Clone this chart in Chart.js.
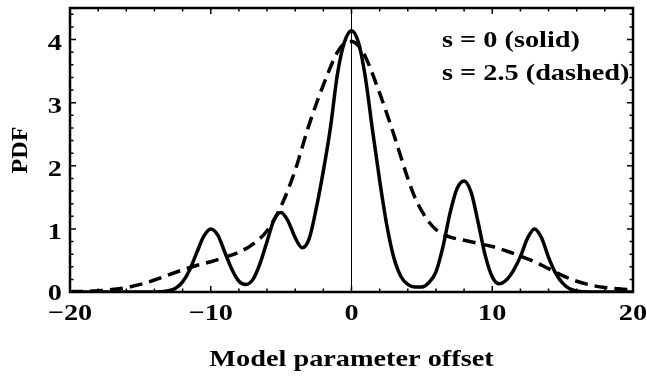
<!DOCTYPE html>
<html>
<head>
<meta charset="utf-8">
<title>PDF vs model parameter offset</title>
<script src="https://cdn.jsdelivr.net/npm/chart.js@4.4.1/dist/chart.umd.min.js"></script>
<style>
    html, body { margin: 0; padding: 0; background: #fff; }
    #wrap { width: 647px; height: 376px; }
</style>
</head>
<body>
<div id="wrap"><canvas id="grafico" width="647" height="376"></canvas></div>
<script>
// s = 0 curve (solid)
const solidX = [-20, -15, -14, -13, -12.5, -12, -11.5, -11, -10.5, -10, -9.5, -9, -8.5, -8, -7.5, -7, -6.5, -6, -5.5, -5,
    -4.5, -4, -3.5, -3, -2.5, -2, -1.5, -1, -0.5, 0, 0.5, 1, 1.5, 2, 2.5, 3, 3.5, 4, 4.5, 5, 5.5, 6, 6.5, 7, 7.5, 8,
    8.5, 9, 9.5, 10, 10.5, 11, 11.5, 12, 12.5, 13, 13.5, 14, 14.5, 15, 15.5, 16, 17, 20];
const solidY = [0, 0, 0, 0.02, 0.06, 0.16, 0.35, 0.62, 0.88, 1.0, 0.9, 0.63, 0.36, 0.17, 0.12, 0.2, 0.45, 0.8, 1.15, 1.26,
    1.12, 0.86, 0.7, 0.85, 1.33, 1.92, 2.6, 3.45, 3.96, 4.14, 3.95, 3.38, 2.55, 1.77, 1.07, 0.55, 0.25, 0.12, 0.08, 0.08, 0.15, 0.32, 0.72, 1.25, 1.64, 1.76,
    1.58, 1.1, 0.58, 0.24, 0.13, 0.19, 0.34, 0.56, 0.85, 1.0, 0.86, 0.55, 0.3, 0.14, 0.05, 0.015, 0, 0];

// s = 2.5 curve (dashed)
const dashedX = [-20, -19, -18, -17, -16, -15, -14, -13, -12, -11, -10, -9, -8, -7, -6, -5, -4, -3, -2, -1, -0.5, 0,
    0.5, 1, 2, 3, 4, 4.5, 5, 5.5, 6, 6.5, 7, 8, 9, 10, 11, 12, 13, 14, 15, 16, 17, 18, 19, 20];
const dashedY = [0.005, 0.01, 0.02, 0.04, 0.07, 0.12, 0.19, 0.27, 0.35, 0.42, 0.48, 0.55, 0.63, 0.76, 0.97, 1.36, 1.93, 2.66, 3.28, 3.8, 3.94, 3.97,
    3.9, 3.72, 3.15, 2.5, 1.8, 1.5, 1.28, 1.11, 0.99, 0.92, 0.87, 0.82, 0.77, 0.72, 0.65, 0.57, 0.48, 0.37, 0.26, 0.17, 0.11, 0.07, 0.05, 0.03];

const legendLines = ['s = 0 (solid)', 's = 2.5 (dashed)'];
const xTitle = 'Model parameter offset';
const yTitle = 'PDF';

const fontStr = 'bold 23px "Liberation Serif", "DejaVu Serif", serif';
const ANCHO = 1.23; // horizontal widening of the labels

function toPoints(xs, ys) {
    return xs.map((x, i) => ({ x: x, y: ys[i] }));
}

function textoAncho(ctx, text, x, y, align, k) {
    ctx.save();
    ctx.translate(x, y);
    ctx.scale(k, 1);
    ctx.textAlign = align;
    ctx.fillText(text, 0, 0);
    ctx.restore();
}

function etiquetaX(v) {
    return v < 0 ? '\u2212' + Math.abs(v) : String(v);
}

// inward ticks on all four sides, frame, x = 0 axis line, tick labels, titles and the text block
const marcoPlugin = {
    id: 'marco',
    beforeDatasetsDraw(chart) {
        const { ctx, chartArea: a, scales } = chart;
        const px0 = scales.x.getPixelForValue(0);
        ctx.save();
        ctx.strokeStyle = '#000';
        ctx.lineWidth = 1;
        ctx.beginPath();
        ctx.moveTo(px0, a.top);
        ctx.lineTo(px0, a.bottom);
        ctx.stroke();
        ctx.restore();
    },
    afterDatasetsDraw(chart) {
        const { ctx, chartArea: a, scales } = chart;
        const sx = scales.x, sy = scales.y;
        ctx.save();
        ctx.strokeStyle = '#000';
        ctx.lineWidth = 1.5;
        ctx.beginPath();
        for (let v = -20; v <= 20; v += 2) {
            const px = sx.getPixelForValue(v);
            const len = v % 10 === 0 ? 6 : 3.5;
            ctx.moveTo(px, a.bottom);
            ctx.lineTo(px, a.bottom - len);
            ctx.moveTo(px, a.top);
            ctx.lineTo(px, a.top + len);
        }
        for (let i = 0; i <= 22; i++) {
            const py = sy.getPixelForValue(i * 0.2);
            const len = i % 5 === 0 ? 6 : 3.5;
            ctx.moveTo(a.left, py);
            ctx.lineTo(a.left + len, py);
            ctx.moveTo(a.right, py);
            ctx.lineTo(a.right - len, py);
        }
        ctx.stroke();

        ctx.lineWidth = 2.5;
        ctx.strokeRect(a.left, a.top, a.right - a.left, a.bottom - a.top);

        ctx.fillStyle = '#000';
        ctx.font = fontStr;
        ctx.textBaseline = 'alphabetic';

        sx.ticks.forEach(t => {
            textoAncho(ctx, etiquetaX(t.value), sx.getPixelForValue(t.value), a.bottom + 28, 'center', ANCHO);
        });
        sy.ticks.forEach(t => {
            // the 0 label sits a little higher so it clears the x labels
            const dy = t.value === 0 ? 8 : 10;
            textoAncho(ctx, String(t.value), a.left - 8, sy.getPixelForValue(t.value) + dy, 'right', ANCHO);
        });

        textoAncho(ctx, xTitle, (a.left + a.right) / 2, 366, 'center', ANCHO);

        ctx.save();
        ctx.translate(27, (a.top + a.bottom) / 2);
        ctx.rotate(-Math.PI / 2);
        textoAncho(ctx, yTitle, 0, 0, 'center', 1.05);
        ctx.restore();

        legendLines.forEach((t, i) => {
            textoAncho(ctx, t, a.right - 191, a.top + 39 + i * 33, 'left', ANCHO);
        });
        ctx.restore();
    }
};

window.onload = function () {
    const ctx = document.getElementById('grafico').getContext('2d');

    new Chart(ctx, {
        type: 'line',
        data: {
            datasets: [
                {
                    label: legendLines[0],
                    data: toPoints(solidX, solidY),
                    borderColor: '#000',
                    borderWidth: 3.5,
                    pointRadius: 0,
                    fill: false,
                    cubicInterpolationMode: 'monotone'
                },
                {
                    label: legendLines[1],
                    data: toPoints(dashedX, dashedY),
                    borderColor: '#000',
                    borderWidth: 3.5,
                    borderDash: [13, 7],
                    borderCapStyle: 'butt',
                    pointRadius: 0,
                    fill: false,
                    cubicInterpolationMode: 'monotone'
                }
            ]
        },
        options: {
            responsive: false,
            animation: false,
            layout: {
                padding: { left: 70, right: 14, top: 8, bottom: 84 }
            },
            plugins: {
                legend: { display: false },
                tooltip: { enabled: false }
            },
            scales: {
                x: {
                    type: 'linear',
                    display: false,
                    min: -20,
                    max: 20,
                    ticks: { stepSize: 10 }
                },
                y: {
                    display: false,
                    min: 0,
                    max: 4.5,
                    afterBuildTicks: scale => {
                        scale.ticks = scale.ticks.filter(t => Number.isInteger(t.value));
                    },
                    ticks: { stepSize: 1 }
                }
            }
        },
        plugins: [marcoPlugin]
    });
};
</script>
</body>
</html>
